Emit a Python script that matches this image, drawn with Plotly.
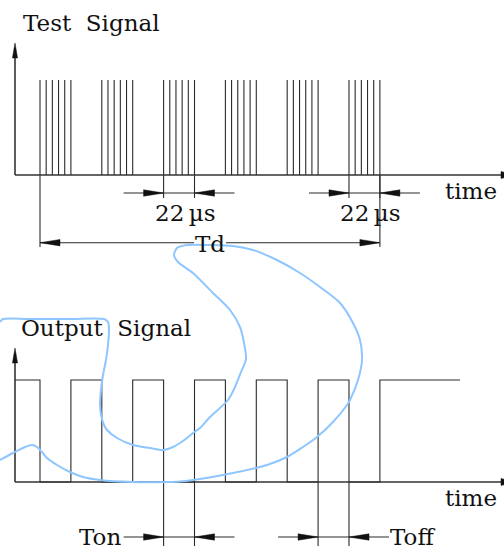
import plotly.graph_objects as go

# ---------------- data (time in microseconds) ----------------
burst_start_us = [0, 44, 88, 132, 176, 220]      # start of each test burst
pulses_per_burst = 6
burst_length_us = 22                              # first to last pulse in a burst
output_start_us = -17.8                           # output trace starts at the axis
output_end_us = 299
dim_bursts = [2, 5]                               # bursts marked "22 µs"
ton_us = [88, 110]
toff_us = [198, 220]
td_us = [0, 242]
label_title_top = "Test  Signal"
label_title_bottom = "Output  Signal"
label_time = "time"
label_dim = "22\u2009\u00b5s"
label_td = "Td"
label_ton = "Ton"
label_toff = "Toff"

# hand-drawn light-blue stroke (pixel units)
blue_x_px = [0, 3, 30, 70, 104, 108, 109, 108, 106, 103, 101, 100, 101, 104, 107, 117, 133, 150, 163,
             173, 180, 187, 193, 200, 210, 228, 235, 241, 246, 244, 240, 230, 213, 193, 178, 174, 177,
             187, 210, 233, 253, 277, 300, 320, 340, 353, 360, 362, 358, 350, 347, 333, 317, 303, 287,
             267, 223, 193, 180, 167, 133, 100, 83, 70, 57, 47, 42, 37, 32, 25, 13, 0]
blue_y_px = [322, 319, 319, 319, 319, 322, 330, 345, 360, 375, 390, 403, 415, 425, 430, 438, 445, 448, 450,
             447, 443, 438, 433, 428, 417, 400, 387, 372, 359, 343, 327, 310, 293, 273, 262, 255, 248,
             245, 245, 246, 250, 260, 273, 287, 303, 323, 340, 360, 380, 400, 405, 422, 437, 447, 457,
             465, 475, 480, 481.5, 482, 482, 480, 477, 472, 465, 458, 452, 447, 445, 447, 453, 460]

# ---------------- layout constants ----------------
W, H = 504, 550
PX_PER_US = 1.4045
T0_PX = 40
AX_PX = 15
TOP_BASE, TOP_HIGH, TOP_TIP = 175, 80, 43
BOT_BASE, BOT_HIGH, BOT_TIP = 482, 380, 348
FONT = dict(family="DejaVu Serif", size=23, color="#111")


def t_of(px):
    return (px - T0_PX) / PX_PER_US


def dx(px):
    return px / PX_PER_US


AX = t_of(AX_PX)
pulse_step = burst_length_us / (pulses_per_burst - 1)

thin_x, thin_y = [], []
ax_x, ax_y = [], []
head_x, head_y = [], []


def seg(xs, ys, x1, y1, x2, y2):
    xs += [x1, x2, None]
    ys += [y1, y2, None]


def head(tip_x, tip_y, direction, length=20, half=3.2):
    if direction == "right":
        pts = [(tip_x, tip_y), (tip_x - dx(length), tip_y - half), (tip_x - dx(length), tip_y + half)]
    elif direction == "left":
        pts = [(tip_x, tip_y), (tip_x + dx(length), tip_y - half), (tip_x + dx(length), tip_y + half)]
    else:
        pts = [(tip_x, tip_y), (tip_x - dx(half * 0.8), tip_y + length), (tip_x + dx(half * 0.8), tip_y + length)]
    for p in pts + [pts[0]]:
        head_x.append(p[0])
        head_y.append(p[1])
    head_x.append(None)
    head_y.append(None)


# test signal pulses
for b in burst_start_us:
    for k in range(pulses_per_burst):
        t = b + k * pulse_step
        seg(thin_x, thin_y, t, TOP_BASE, t, TOP_HIGH)

# output square wave
ox = [output_start_us]
oy = [BOT_HIGH]
for b in burst_start_us:
    e = b + burst_length_us
    ox += [b, b, e, e]
    oy += [BOT_HIGH, BOT_BASE, BOT_BASE, BOT_HIGH]
ox += [output_end_us, None]
oy += [BOT_HIGH, None]
thin_x += ox
thin_y += oy

# axes
x_right = t_of(W + 12)
for base, tip in [(TOP_BASE, TOP_TIP), (BOT_BASE, BOT_TIP)]:
    seg(ax_x, ax_y, AX, base, x_right, base)
    seg(ax_x, ax_y, AX, base, AX, tip + 10)
    head(AX, tip, "up", length=15, half=3.2)
    head(x_right, base, "right", length=15, half=3.5)


def inward_dim(t1, t2, y, y_from, y_to):
    seg(thin_x, thin_y, t1, y_from, t1, y_to)
    seg(thin_x, thin_y, t2, y_from, t2, y_to)
    seg(thin_x, thin_y, t1 - dx(40), y, t2 + dx(40), y)
    head(t1, y, "right")
    head(t2, y, "left")


annotations = []
DIM_Y = 193
for i in dim_bursts:
    t1 = burst_start_us[i]
    t2 = t1 + burst_length_us
    inward_dim(t1, t2, DIM_Y, TOP_BASE, 198)
    annotations.append(dict(x=(t1 + t2) / 2 + dx(6), y=213, text=label_dim, showarrow=False,
                            xanchor="center", yanchor="middle", font=FONT))

# Td
TD_Y = 242.7
seg(thin_x, thin_y, td_us[0], TOP_BASE, td_us[0], 247)
seg(thin_x, thin_y, td_us[1], TOP_BASE, td_us[1], 247)
seg(thin_x, thin_y, td_us[0], TD_Y, t_of(194), TD_Y)
seg(thin_x, thin_y, t_of(226), TD_Y, td_us[1], TD_Y)
head(td_us[0], TD_Y, "left")
head(td_us[1], TD_Y, "right")
annotations.append(dict(x=t_of(210), y=244, text=label_td, showarrow=False,
                        xanchor="center", yanchor="middle", font=FONT))

# Ton / Toff
LOW_DIM_Y = 537
inward_dim(ton_us[0], ton_us[1], LOW_DIM_Y, BOT_BASE, 546)
inward_dim(toff_us[0], toff_us[1], LOW_DIM_Y, BOT_BASE, 546)
annotations.append(dict(x=t_of(123), y=LOW_DIM_Y, text=label_ton, showarrow=False,
                        xanchor="right", yanchor="middle", font=FONT))
annotations.append(dict(x=t_of(388), y=LOW_DIM_Y, text=label_toff, showarrow=False,
                        xanchor="left", yanchor="middle", font=FONT))

# titles and axis labels
annotations.append(dict(x=t_of(21), y=23, text=label_title_top, showarrow=False,
                        xanchor="left", yanchor="middle", font=FONT))
annotations.append(dict(x=t_of(19), y=328, text=label_title_bottom, showarrow=False,
                        xanchor="left", yanchor="middle", font=FONT))
annotations.append(dict(x=t_of(443), y=191, text=label_time, showarrow=False,
                        xanchor="left", yanchor="middle", font=FONT))
annotations.append(dict(x=t_of(443), y=498, text=label_time, showarrow=False,
                        xanchor="left", yanchor="middle", font=FONT))

fig = go.Figure()
fig.add_trace(go.Scatter(x=thin_x, y=thin_y, mode="lines",
                         line=dict(color="#2a2a2a", width=1.1), hoverinfo="skip"))
fig.add_trace(go.Scatter(x=ax_x, y=ax_y, mode="lines",
                         line=dict(color="#333", width=1.6), hoverinfo="skip"))
fig.add_trace(go.Scatter(x=head_x, y=head_y, mode="lines", fill="toself", fillcolor="#111",
                         line=dict(color="#111", width=0.5), hoverinfo="skip"))
fig.add_trace(go.Scatter(x=[t_of(v) for v in blue_x_px], y=blue_y_px, mode="lines",
                         line=dict(color="#8ec6ff", width=2, shape="spline", smoothing=0.8),
                         hoverinfo="skip"))

fig.update_layout(
    width=W, height=H, margin=dict(l=0, r=0, t=0, b=0),
    paper_bgcolor="white", plot_bgcolor="white", showlegend=False,
    xaxis=dict(range=[t_of(0), t_of(W)], visible=False, fixedrange=True),
    yaxis=dict(range=[H, 0], visible=False, fixedrange=True),
    annotations=annotations,
)
fig.write_html("out.html", config={"displayModeBar": False},
               post_script="document.body.style.margin='0';document.body.style.overflow='hidden';")
